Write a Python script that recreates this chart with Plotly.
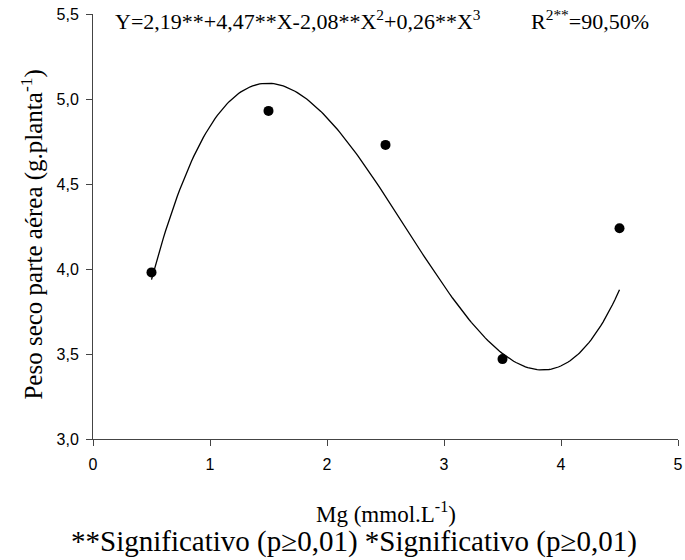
import numpy as np
import plotly.graph_objects as go

# Observed means
mg = [0.5, 1.5, 2.5, 3.5, 4.5]
peso = [3.98, 4.93, 4.73, 3.47, 4.24]

# Cubic regression coefficients (b0, b1, b2, b3)
coef = [2.19, 4.47, -2.08, 0.26]

x_ticks = [0, 1, 2, 3, 4, 5]
x_ticklabels = ["0", "1", "2", "3", "4", "5"]
y_ticks = [3.0, 3.5, 4.0, 4.5, 5.0, 5.5]
y_ticklabels = ["3,0", "3,5", "4,0", "4,5", "5,0", "5,5"]

xf = np.linspace(min(mg), max(mg), 200)
yf = coef[0] + coef[1] * xf + coef[2] * xf**2 + coef[3] * xf**3

fig = go.Figure()
fig.add_trace(go.Scatter(x=xf, y=yf, mode="lines",
                         line=dict(color="black", width=1.3), hoverinfo="skip"))
fig.add_trace(go.Scatter(x=mg, y=peso, mode="markers",
                         marker=dict(color="black", size=10)))

serif = "Liberation Serif, Times New Roman, serif"
sans = "Liberation Sans, Arial, sans-serif"

fig.update_layout(
    width=685, height=560,
    margin=dict(l=93, r=2, t=14, b=121),
    plot_bgcolor="white", paper_bgcolor="white",
    showlegend=False,
    font=dict(family=sans, color="black"),
    xaxis=dict(range=[0, 5], tickvals=x_ticks, ticktext=x_ticklabels,
               showgrid=False, zeroline=False, showline=True,
               linecolor="#444", linewidth=1, ticks="outside", ticklen=6,
               tickcolor="#444", tickfont=dict(family=sans, size=16),
               ticklabelstandoff=5, ticklabeloverflow="allow"),
    yaxis=dict(range=[3.0, 5.5], tickvals=y_ticks, ticktext=y_ticklabels,
               showgrid=False, zeroline=False, showline=True,
               linecolor="#444", linewidth=1, ticks="outside", ticklen=6,
               tickcolor="#444", tickfont=dict(family=sans, size=16),
               ticklabelstandoff=4),
)

annos = [
    dict(text="Y=2,19**+4,47**X-2,08**X<sup>2</sup>+0,26**X<sup>3</sup>",
         x=0.034, y=0.986, xanchor="left", yanchor="middle",
         font=dict(family=serif, size=22)),
    dict(text="R<sup>2**</sup>=90,50%",
         x=0.746, y=0.986, xanchor="left", yanchor="middle",
         font=dict(family=serif, size=22)),
    dict(text="Peso seco parte aérea (g.planta<sup>-1</sup>)",
         x=-0.105, y=0.48, xanchor="center", yanchor="middle", textangle=-90,
         font=dict(family=serif, size=25)),
    dict(text="Mg (mmol.L<sup>-1</sup>)",
         x=0.5, y=-0.172, xanchor="center", yanchor="middle",
         font=dict(family=serif, size=23)),
    dict(text="**Significativo (p\u22650,01) *Significativo (p\u22650,01)",
         x=0.446, y=-0.24, xanchor="center", yanchor="middle",
         font=dict(family=serif, size=29)),
]
for a in annos:
    fig.add_annotation(xref="paper", yref="paper", showarrow=False, **a)

fig.write_html("out.html")
